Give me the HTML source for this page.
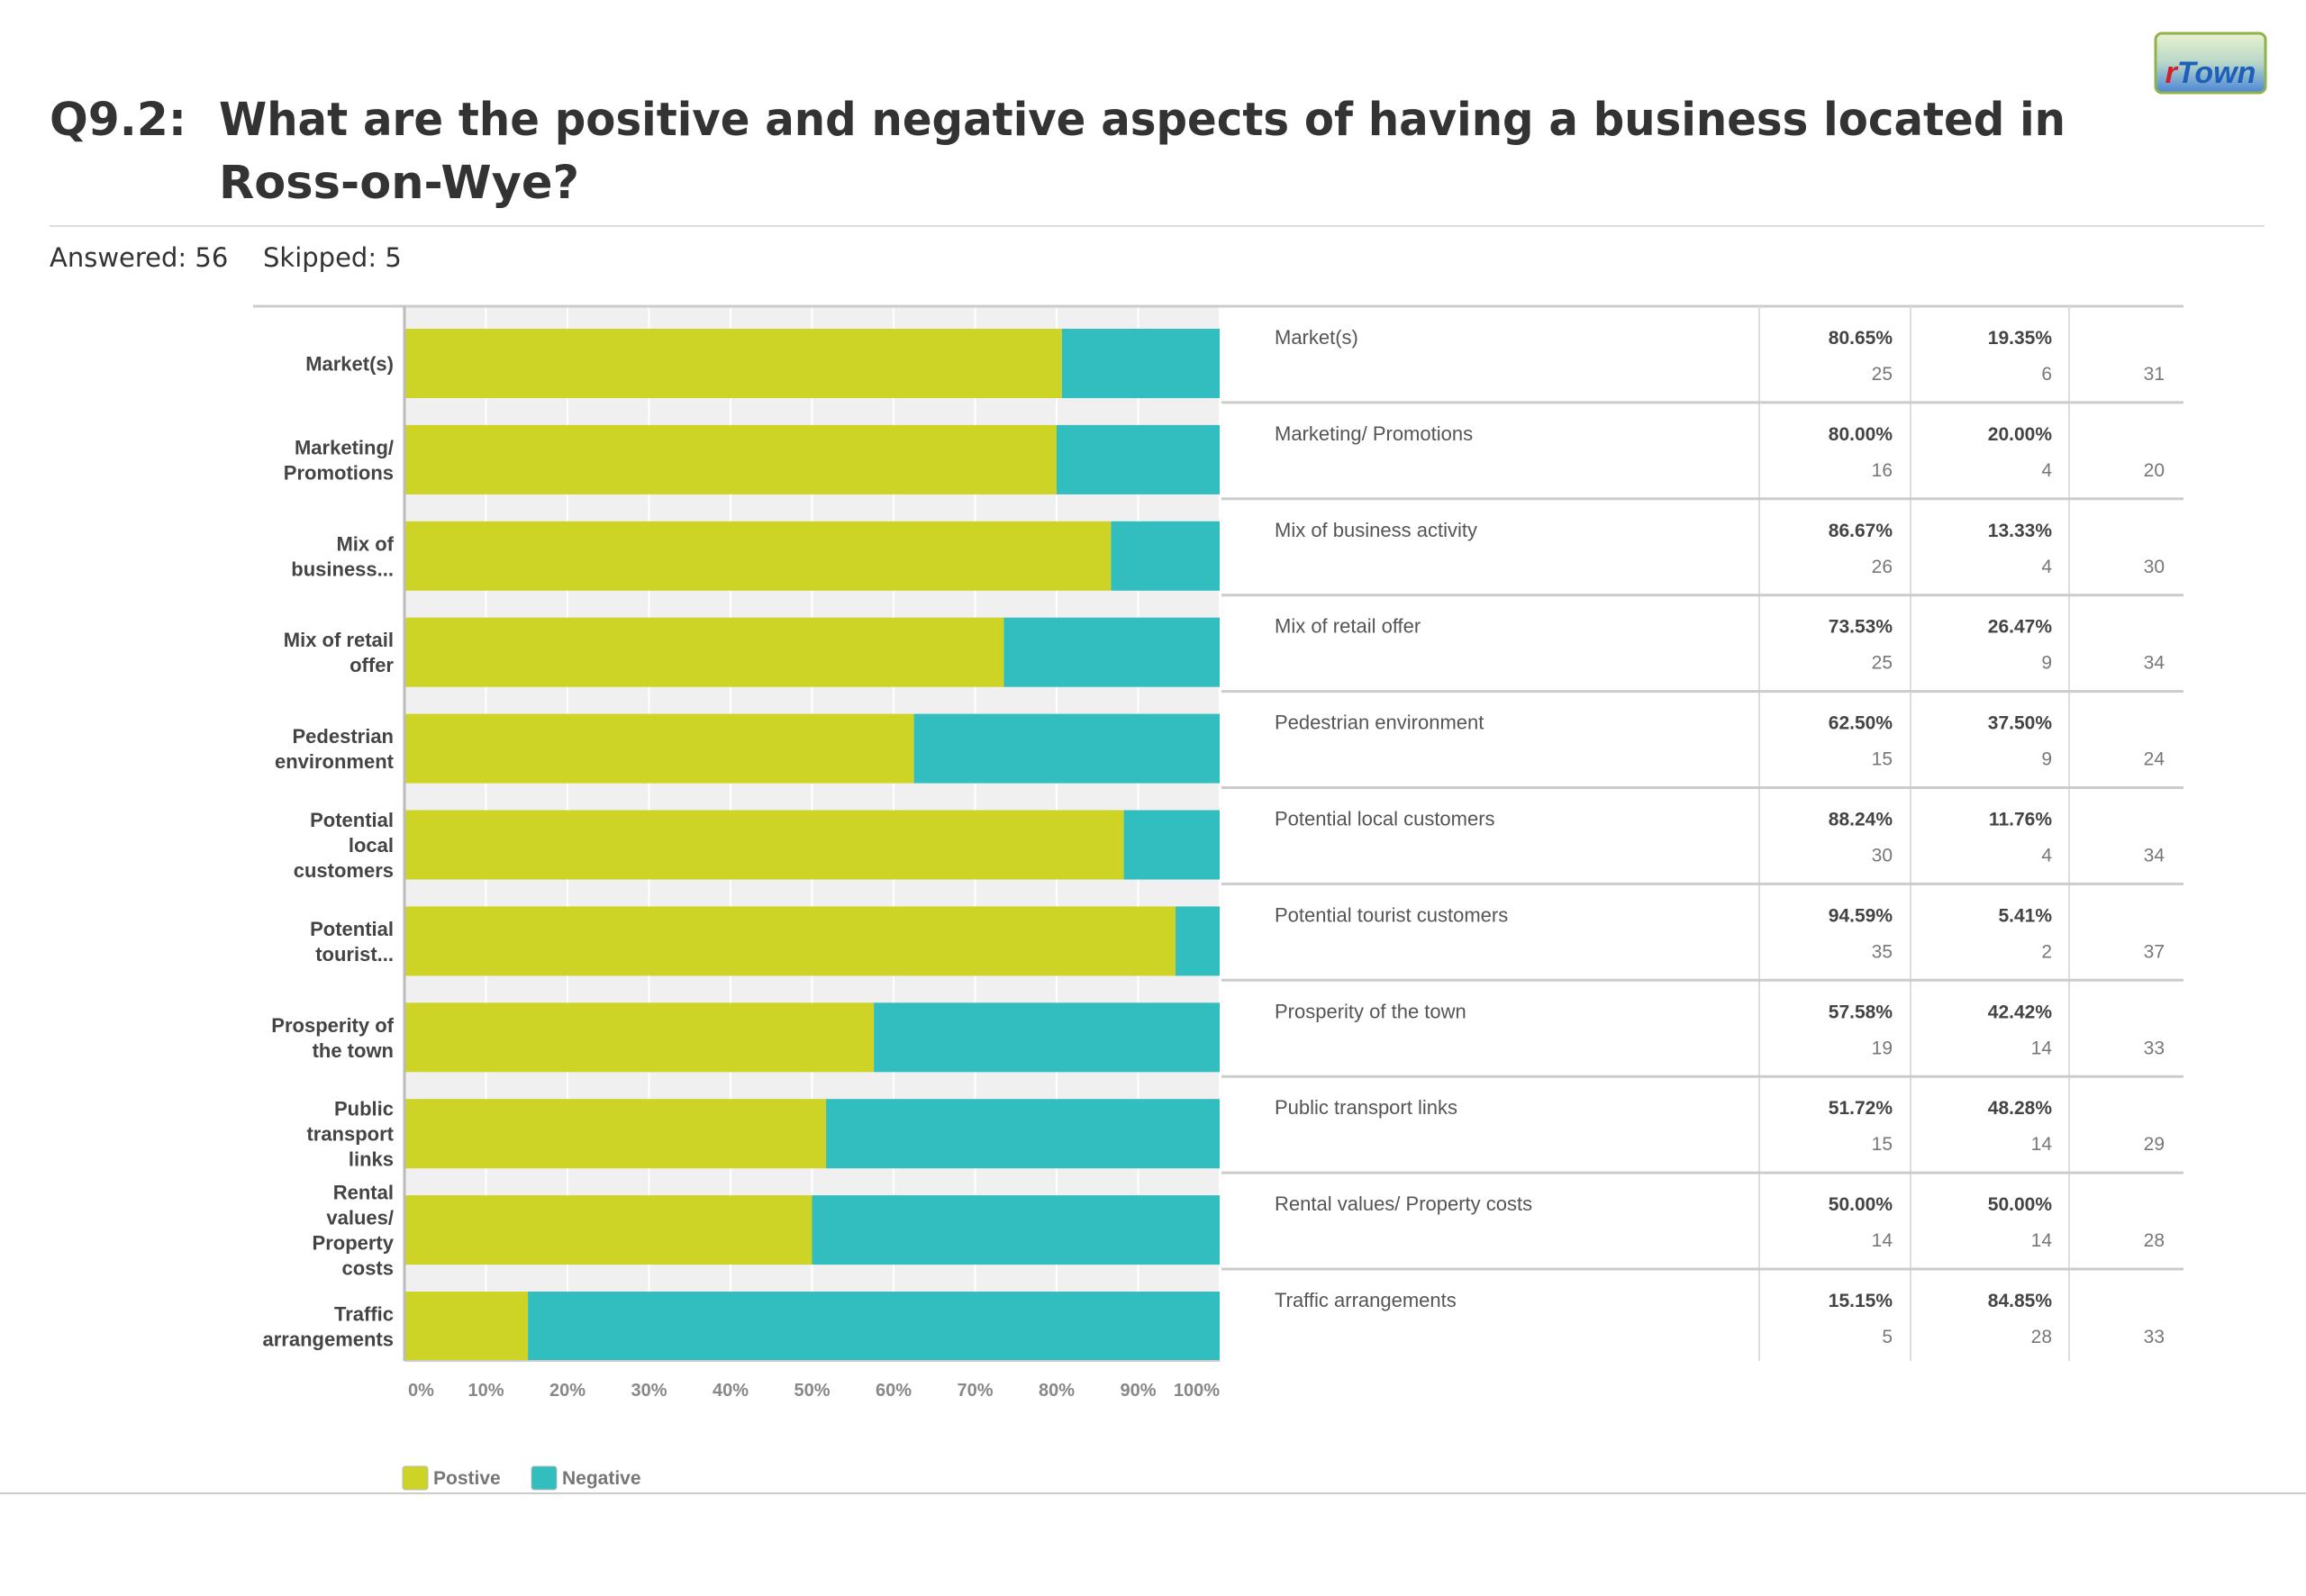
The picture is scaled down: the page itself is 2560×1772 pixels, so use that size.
<!DOCTYPE html>
<html><head><meta charset="utf-8"><style>
html,body{margin:0;padding:0;background:#fff;width:2560px;height:1772px;overflow:hidden}
svg{display:block}
.nar{font-family:"Liberation Sans Narrow","Liberation Sans",sans-serif}
</style></head><body>
<svg id="chart" width="2560" height="1772" viewBox="0 0 2560 1772" xmlns="http://www.w3.org/2000/svg">
<defs><linearGradient id="lg" x1="0" y1="0" x2="0" y2="1"><stop offset="0" stop-color="#e8f2d0"/><stop offset="0.5" stop-color="#b8d6c8"/><stop offset="1" stop-color="#4a86d8"/></linearGradient></defs>
<g>
<rect x="2393" y="37" width="122" height="66" rx="7" fill="url(#lg)" stroke="#8fb34a" stroke-width="3"/>
<text x="2454" y="92" text-anchor="middle" font-family="Liberation Sans,sans-serif" font-style="italic" font-weight="bold" font-size="34"><tspan fill="#d0202a">r</tspan><tspan fill="#1e5fb8">Town</tspan></text>
</g>
<g font-family="DejaVu Sans,Liberation Sans,sans-serif" font-size="51" fill="#333" font-weight="bold">
<text x="55" y="150" textLength="152" lengthAdjust="spacingAndGlyphs">Q9.2:</text>
<text x="243" y="150" textLength="2050" lengthAdjust="spacingAndGlyphs">What are the positive and negative aspects of having a business located in</text>
<text x="243" y="220">Ross-on-Wye?</text>
</g>
<line x1="55" y1="251" x2="2514" y2="251" stroke="#ddd" stroke-width="2"/>
<g font-family="DejaVu Sans,Liberation Sans,sans-serif" font-size="29" fill="#333">
<text x="55" y="296">Answered: 56</text><text x="292" y="296">Skipped: 5</text>
</g>
<g id="plot"></g>
<line x1="0" y1="1658" x2="2560" y2="1658" stroke="#ccc" stroke-width="2"/>
</svg>
<script>
const categories=["Market(s)","Marketing/ Promotions","Mix of business activity","Mix of retail offer","Pedestrian environment","Potential local customers","Potential tourist customers","Prosperity of the town","Public transport links","Rental values/ Property costs","Traffic arrangements"];
const shortLabels=[["Market(s)"],["Marketing/","Promotions"],["Mix of","business..."],["Mix of retail","offer"],["Pedestrian","environment"],["Potential","local","customers"],["Potential","tourist..."],["Prosperity of","the town"],["Public","transport","links"],["Rental","values/","Property","costs"],["Traffic","arrangements"]];
const positivePct=[80.65,80.00,86.67,73.53,62.50,88.24,94.59,57.58,51.72,50.00,15.15];
const negativePct=[19.35,20.00,13.33,26.47,37.50,11.76,5.41,42.42,48.28,50.00,84.85];
const positiveCount=[25,16,26,25,15,30,35,19,15,14,5];
const negativeCount=[6,4,4,9,9,4,2,14,14,14,28];
const totals=[31,20,30,34,24,34,37,33,29,28,33];
const xTicks=[0,10,20,30,40,50,60,70,80,90,100];
const xTickLabels=["0%","10%","20%","30%","40%","50%","60%","70%","80%","90%","100%"];

const NS="http://www.w3.org/2000/svg";
const g=document.getElementById('plot');
const X0=449,X1=1354,TOP=340,ROW=106.9,BARH=77,BAROFF=25;
const xs=v=>X0+(X1-X0)*v/100;
const rowTop=i=>TOP+i*ROW;
function mk(t,a,p){const e=document.createElementNS(NS,t);for(const k in a)e.setAttribute(k,a[k]);(p||g).appendChild(e);return e;}
const n=categories.length;
const BOT=rowTop(n-1)+BAROFF+BARH;
let e;
e=mk('rect',{x:X0,y:TOP,width:X1-X0,height:BOT-TOP,fill:'#f0f0f0'});


xTicks.forEach((t,k)=>{
 e=mk('line',{x1:xs(t),x2:xs(t),y1:TOP,y2:BOT,stroke:'#fff','stroke-width':2});
 
 
 e=mk('text',{x:xs(t)+(k==0?4:0),y:1550,'text-anchor':k==0?'start':(t==100?'end':'middle'),'font-size':20,'font-weight':'bold',fill:'#888',class:'nar'});
 e.textContent=xTickLabels[k];
 
 
});
e=mk('line',{x1:281,x2:2424,y1:TOP,y2:TOP,stroke:'#ccc','stroke-width':3});


[1953,2121,2297].forEach(x=>{e=mk('line',{x1:x,x2:x,y1:TOP,y2:BOT,stroke:'#ddd','stroke-width':2});
 
 });
for(let i=0;i<n;i++){
 const y=rowTop(i);
 const by=y+BAROFF;
 e=mk('rect',{x:X0,y:by,width:xs(positivePct[i])-X0,height:BARH,fill:'#cdd425'});
 
 
 e=mk('rect',{x:xs(positivePct[i]),y:by,width:xs(positivePct[i]+negativePct[i])-xs(positivePct[i]),height:BARH,fill:'#32bdbf'});
 
 
 const L=shortLabels[i],lh=28,cy=by+BARH/2;
 L.forEach((s,j)=>{e=mk('text',{x:437,y:cy-(L.length-1)*lh/2+j*lh+8,'text-anchor':'end','font-size':22,'font-weight':'bold',fill:'#444',class:'nar'});e.textContent=s;
  
  });
 if(i<n-1){e=mk('line',{x1:1356,x2:2424,y1:y+ROW,y2:y+ROW,stroke:'#ccc','stroke-width':3});
  
  }
 e=mk('text',{x:1415,y:y+42,'font-size':22,fill:'#555',class:'nar'});e.textContent=categories[i];
 
 
 [[2101,positivePct[i],positiveCount[i]],[2278,negativePct[i],negativeCount[i]]].forEach(([x,p,c])=>{
  e=mk('text',{x:x,y:y+42,'text-anchor':'end','font-size':21,'font-weight':'bold',fill:'#444',class:'nar'});e.textContent=p.toFixed(2)+'%';
  
  
  e=mk('text',{x:x,y:y+82,'text-anchor':'end','font-size':21,fill:'#777',class:'nar'});e.textContent=c;
  
  
 });
 e=mk('text',{x:2403,y:y+82,'text-anchor':'end','font-size':21,fill:'#777',class:'nar'});e.textContent=totals[i];
 
 
}
e=mk('line',{x1:X0,x2:X0,y1:TOP,y2:BOT,stroke:'#bbb','stroke-width':3});


e=mk('line',{x1:X0,x2:X1,y1:BOT,y2:BOT,stroke:'#ccc','stroke-width':2});


[['#cdd425','Postive',447],['#32bdbf','Negative',590]].forEach(([c,t,x])=>{
 const lg=mk('g',{});
 
 
 mk('rect',{x:x,y:1628,width:28,height:26,rx:3,fill:c,stroke:'#bbb','stroke-width':1},lg);
 const tt=mk('text',{x:x+34,y:1648,'font-size':21,'font-weight':'bold',fill:'#777',class:'nar'},lg);tt.textContent=t;
});
</script>
</body></html>
